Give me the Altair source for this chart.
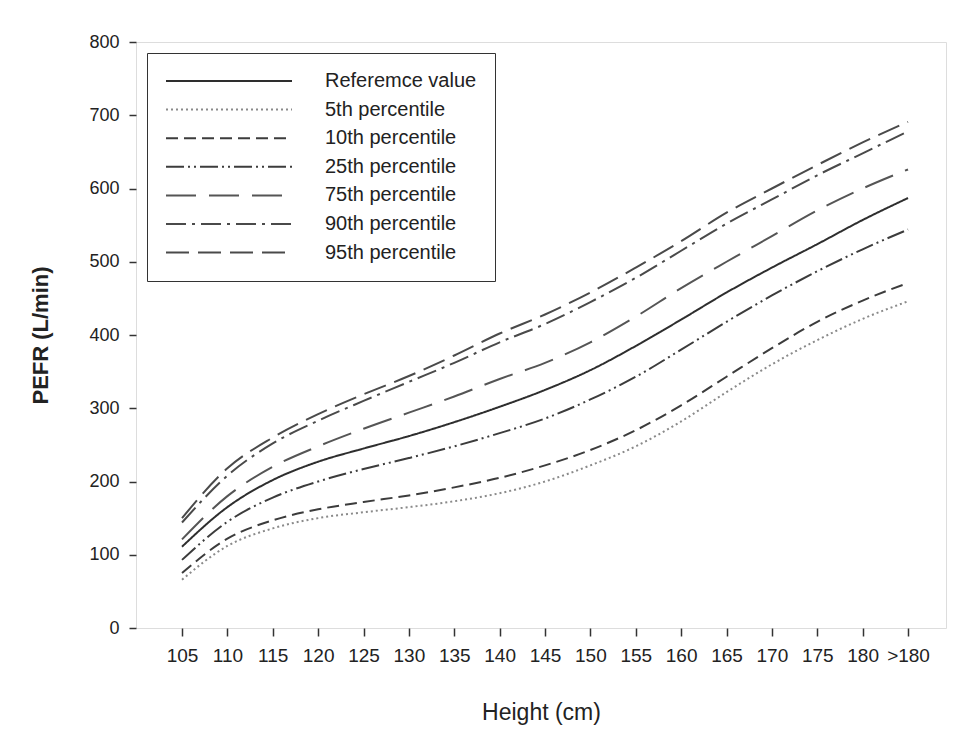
import altair as alt
import pandas as pd

heights = ["105", "110", "115", "120", "125", "130", "135", "140", "145",
           "150", "155", "160", "165", "170", "175", "180", ">180"]

series_names = ["Referemce value", "5th percentile", "10th percentile",
                "25th percentile", "75th percentile", "90th percentile",
                "95th percentile"]

ref = [111, 165, 202, 227, 245, 262, 281, 302, 325, 352, 385, 421, 458, 492, 524, 557, 587]
p5 = [66, 112, 136, 150, 158, 165, 173, 184, 200, 222, 248, 282, 322, 360, 393, 422, 446]
p10 = [75, 122, 147, 162, 172, 181, 192, 205, 222, 243, 270, 304, 343, 382, 418, 447, 471]
p25 = [93, 145, 178, 200, 217, 232, 248, 266, 286, 312, 343, 380, 418, 454, 487, 517, 544]
p75 = [121, 180, 220, 248, 272, 294, 316, 340, 362, 390, 425, 464, 500, 535, 570, 600, 626]
p90 = [144, 208, 252, 283, 310, 336, 362, 390, 415, 445, 478, 515, 552, 585, 618, 648, 678]
p95 = [150, 218, 260, 292, 319, 344, 372, 402, 428, 458, 492, 528, 567, 600, 632, 663, 691]

all_series = [ref, p5, p10, p25, p75, p90, p95]

rows = []
for name, vals in zip(series_names, all_series):
    for i, (h, v) in enumerate(zip(heights, vals)):
        rows.append({"series": name, "idx": i, "height": h, "pefr": v})
df = pd.DataFrame(rows)

label_expr = "[" + ",".join("'" + h + "'" for h in heights) + "][datum.value]"

dash_range = [[1, 0], [2, 3], [12, 6], [18, 4, 2, 4, 2, 4], [30, 13], [20, 6, 3, 6], [23, 9]]
color_range = ["#2e2e2e", "#8a8a8a", "#3c3c3c", "#3c3c3c", "#555555", "#4a4a4a", "#4a4a4a"]

FONT = "Liberation Sans, Arial, sans-serif"

legend = alt.Legend(
    title=None, orient="none", legendX=11, legendY=11,
    strokeColor="#333333", fillColor="white", padding=18,
    symbolType="stroke", symbolSize=15876, symbolStrokeWidth=2,
    labelFont=FONT, labelFontSize=20, labelColor="#222222",
    labelOffset=32, rowPadding=8.6, clipHeight=20,
)

chart = alt.Chart(df).mark_line(interpolate="monotone", strokeWidth=2).encode(
    x=alt.X("idx:Q",
            scale=alt.Scale(domain=[-1.014, 16.837], nice=False, zero=False),
            axis=alt.Axis(values=list(range(17)), labelExpr=label_expr,
                          title="Height (cm)", grid=False, domain=False,
                          tickSize=8, tickWidth=1.5, tickColor="#333333",
                          labelFont=FONT, labelFontSize=19, labelColor="#222222",
                          labelPadding=10, labelFlush=False, labelOverlap=False,
                          titleFont=FONT, titleFontSize=23, titleFontWeight="normal",
                          titleColor="#222222", titleY=84, titleBaseline="middle")),
    y=alt.Y("pefr:Q",
            scale=alt.Scale(domain=[0, 800], nice=False),
            axis=alt.Axis(values=list(range(0, 801, 100)), title="PEFR (L/min)",
                          grid=False, domain=False,
                          tickSize=7, tickWidth=1.5, tickColor="#333333",
                          labelFont=FONT, labelFontSize=18, labelColor="#222222",
                          labelPadding=10, labelFlush=False,
                          titleFont=FONT, titleFontSize=22, titleFontWeight="bold",
                          titleColor="#222222", titleX=-96, titleY=293,
                          titleBaseline="middle")),
    strokeDash=alt.StrokeDash("series:N",
                              scale=alt.Scale(domain=series_names, range=dash_range),
                              legend=legend),
    color=alt.Color("series:N",
                    scale=alt.Scale(domain=series_names, range=color_range),
                    legend=legend),
    order=alt.Order("idx:Q"),
).properties(
    width=810, height=586,
    autosize=alt.AutoSizeParams(type="none"),
    padding={"left": 128, "top": 34, "right": 16, "bottom": 100},
).configure_view(
    stroke="#3a3a3a", strokeWidth=1.5
).configure(background="white")

chart.save("out.html", embed_options={"renderer": "svg", "actions": False})
